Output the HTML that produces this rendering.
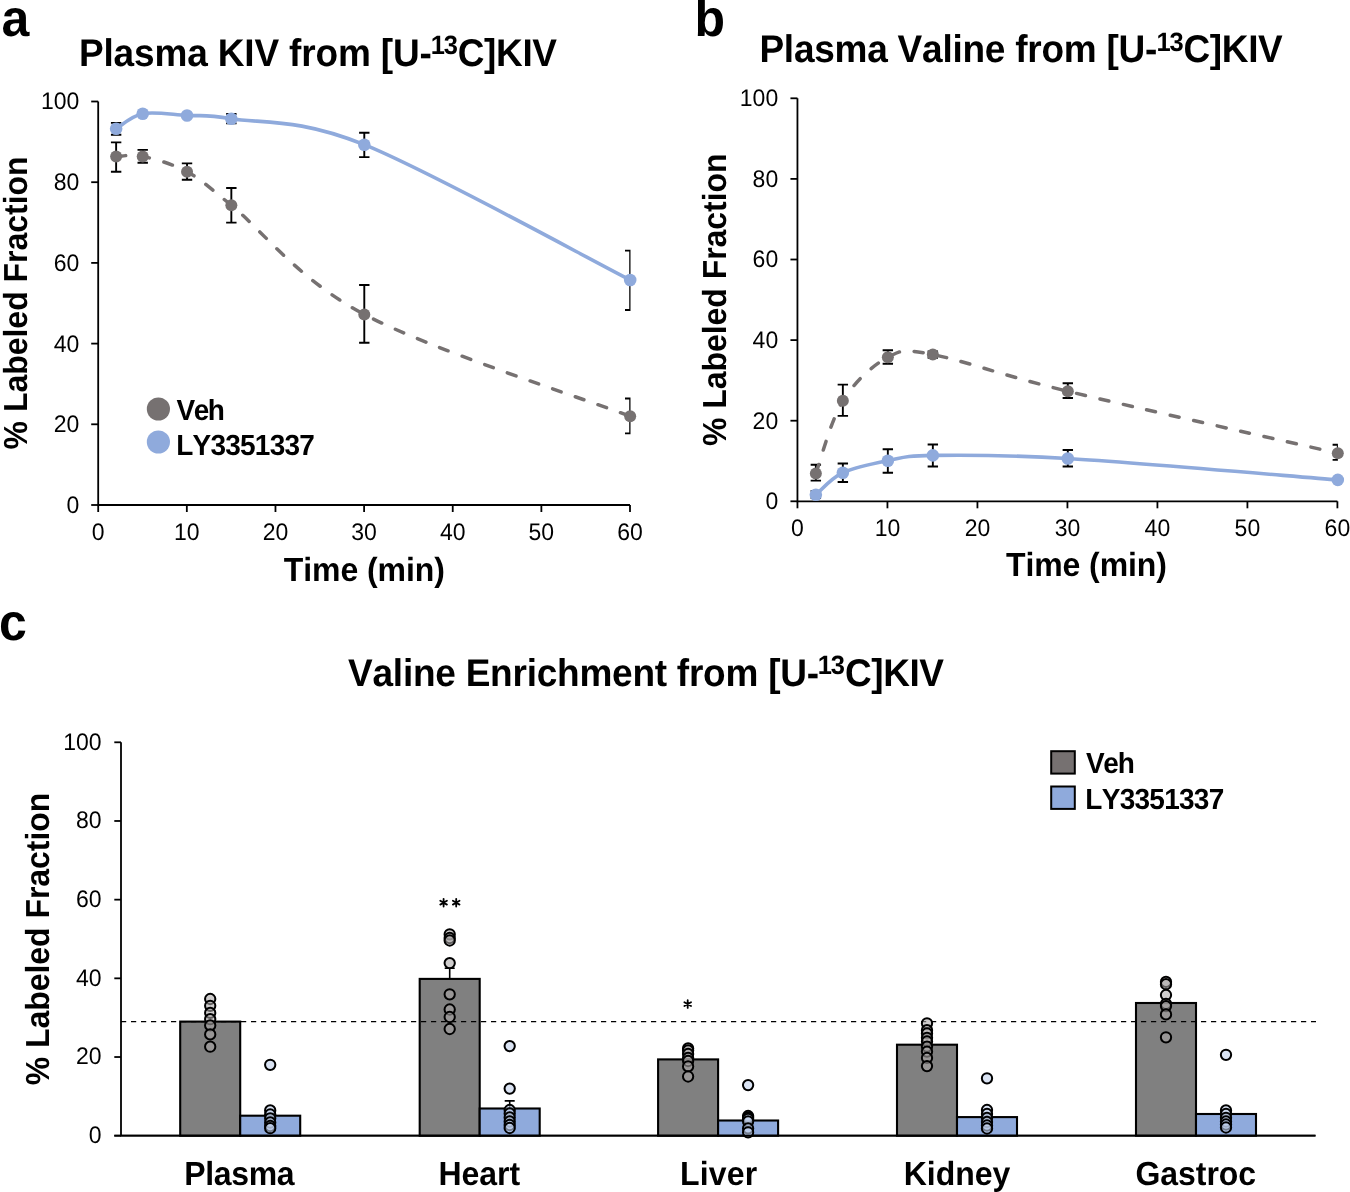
<!DOCTYPE html><html><head><meta charset="utf-8"><style>html,body{margin:0;padding:0;background:#fff;}svg{display:block;will-change:transform;}text{font-family:"Liberation Sans", sans-serif;fill:#000;font-kerning:none;text-rendering:geometricPrecision;}</style></head><body>
<svg width="1350" height="1192" viewBox="0 0 1350 1192">
<rect width="1350" height="1192" fill="#fff"/>
<g stroke="#000" stroke-width="1.80" fill="none" stroke-linecap="butt">
<path d="M98.20,101.50 V505.00 H630.00"/>
<path d="M91.20,505.00 H98.20"/>
<path d="M91.20,424.30 H98.20"/>
<path d="M91.20,343.60 H98.20"/>
<path d="M91.20,262.90 H98.20"/>
<path d="M91.20,182.20 H98.20"/>
<path d="M91.20,101.50 H98.20"/>
<path d="M98.20,505.00 V512.00"/>
<path d="M186.83,505.00 V512.00"/>
<path d="M275.47,505.00 V512.00"/>
<path d="M364.10,505.00 V512.00"/>
<path d="M452.73,505.00 V512.00"/>
<path d="M541.37,505.00 V512.00"/>
<path d="M630.00,505.00 V512.00"/>
</g>
<text transform="translate(79.30,512.90) scale(1,1.041)" font-size="23.00" font-weight="normal" text-anchor="end">0</text>
<text transform="translate(79.30,432.20) scale(1,1.041)" font-size="23.00" font-weight="normal" text-anchor="end">20</text>
<text transform="translate(79.30,351.50) scale(1,1.041)" font-size="23.00" font-weight="normal" text-anchor="end">40</text>
<text transform="translate(79.30,270.80) scale(1,1.041)" font-size="23.00" font-weight="normal" text-anchor="end">60</text>
<text transform="translate(79.30,190.10) scale(1,1.041)" font-size="23.00" font-weight="normal" text-anchor="end">80</text>
<text transform="translate(79.30,109.40) scale(1,1.041)" font-size="23.00" font-weight="normal" text-anchor="end">100</text>
<text transform="translate(98.20,539.60) scale(1,1.041)" font-size="23.00" font-weight="normal" text-anchor="middle">0</text>
<text transform="translate(186.83,539.60) scale(1,1.041)" font-size="23.00" font-weight="normal" text-anchor="middle">10</text>
<text transform="translate(275.47,539.60) scale(1,1.041)" font-size="23.00" font-weight="normal" text-anchor="middle">20</text>
<text transform="translate(364.10,539.60) scale(1,1.041)" font-size="23.00" font-weight="normal" text-anchor="middle">30</text>
<text transform="translate(452.73,539.60) scale(1,1.041)" font-size="23.00" font-weight="normal" text-anchor="middle">40</text>
<text transform="translate(541.37,539.60) scale(1,1.041)" font-size="23.00" font-weight="normal" text-anchor="middle">50</text>
<text transform="translate(630.00,539.60) scale(1,1.041)" font-size="23.00" font-weight="normal" text-anchor="middle">60</text>
<clipPath id="ca"><rect x="78.20" y="0" width="552.30" height="525.00"/></clipPath>
<g clip-path="url(#ca)">
<g stroke="#000" stroke-width="1.9" fill="none">
<path d="M116.13,142.40 V171.80 M110.93,142.40 H121.33 M110.93,171.80 H121.33"/>
<path d="M142.71,149.90 V162.80 M137.51,149.90 H147.91 M137.51,162.80 H147.91"/>
<path d="M187.03,163.40 V179.70 M181.83,163.40 H192.23 M181.83,179.70 H192.23"/>
<path d="M231.34,188.00 V222.60 M226.14,188.00 H236.54 M226.14,222.60 H236.54"/>
<path d="M364.29,285.00 V342.70 M359.09,285.00 H369.49 M359.09,342.70 H369.49"/>
<path d="M630.18,398.50 V433.40 M624.98,398.50 H635.38 M624.98,433.40 H635.38"/>
<path d="M116.13,122.90 V134.70 M110.93,122.90 H121.33 M110.93,134.70 H121.33"/>
<path d="M231.34,114.00 V123.40 M226.14,114.00 H236.54 M226.14,123.40 H236.54"/>
<path d="M364.29,132.70 V157.10 M359.09,132.70 H369.49 M359.09,157.10 H369.49"/>
<path d="M630.18,250.60 V310.00 M624.98,250.60 H635.38 M624.98,310.00 H635.38"/>
</g>
</g>
<path d="M116.13,156.60 C120.56,156.57 130.90,153.87 142.71,156.40 C154.53,158.93 172.26,163.67 187.03,171.80 C201.80,179.93 201.80,181.43 231.34,205.20 C260.89,228.97 297.82,279.22 364.29,314.40 C430.76,349.58 585.87,399.32 630.18,416.30" fill="none" stroke="#767171" stroke-width="3.5" stroke-linecap="round" stroke-dasharray="9.1 14.9" stroke-dashoffset="-0.60"/>
<path d="M116.13,128.80 C120.56,126.28 130.90,115.92 142.71,113.70 C154.53,111.48 172.26,114.67 187.03,115.50 C201.80,116.33 201.80,113.83 231.34,118.70 C260.89,123.57 297.82,117.82 364.29,144.70 C430.76,171.58 585.87,257.45 630.18,280.00" fill="none" stroke="#8FAADC" stroke-width="3.6"/>
<circle cx="116.13" cy="156.60" r="6.0" fill="#767171"/>
<circle cx="142.71" cy="156.40" r="6.0" fill="#767171"/>
<circle cx="187.03" cy="171.80" r="6.0" fill="#767171"/>
<circle cx="231.34" cy="205.20" r="6.0" fill="#767171"/>
<circle cx="364.29" cy="314.40" r="6.0" fill="#767171"/>
<circle cx="630.18" cy="416.30" r="6.0" fill="#767171"/>
<circle cx="116.13" cy="128.80" r="6.3" fill="#8FAADC"/>
<circle cx="142.71" cy="113.70" r="6.3" fill="#8FAADC"/>
<circle cx="187.03" cy="115.50" r="6.3" fill="#8FAADC"/>
<circle cx="231.34" cy="118.70" r="6.3" fill="#8FAADC"/>
<circle cx="364.29" cy="144.70" r="6.3" fill="#8FAADC"/>
<circle cx="630.18" cy="280.00" r="6.3" fill="#8FAADC"/>
<text transform="translate(1.50,36.00) scale(1,1.041)" font-size="50.00" font-weight="bold" text-anchor="start">a</text>
<text transform="translate(78.92,65.90) scale(1,1.041)" font-size="37.00" font-weight="bold" style="letter-spacing:-0.152px">Plasma KIV from [U-</text>
<text transform="translate(430.79,54.10) scale(1,1.041)" font-size="25.50" font-weight="bold" style="letter-spacing:-1.236px">13</text>
<text transform="translate(457.78,65.90) scale(1,1.041)" font-size="37.00" font-weight="bold" style="letter-spacing:-0.387px">C]KIV</text>
<text transform="translate(283.64,581.10) scale(1,1.041)" font-size="32.00" font-weight="bold" style="letter-spacing:-0.048px">Time (min)</text>
<text transform="rotate(-90) translate(-449.40,26.90) scale(1,1.041)" font-size="32.00" font-weight="bold" style="letter-spacing:-0.024px">% Labeled Fraction</text>
<circle cx="158.4" cy="409" r="11.6" fill="#767171"/>
<circle cx="158.4" cy="442" r="11.6" fill="#8FAADC"/>
<text transform="translate(176.51,419.70) scale(1,1.041)" font-size="28.00" font-weight="bold" style="letter-spacing:-1.512px">Veh</text>
<text transform="translate(176.13,454.70) scale(1,1.041)" font-size="28.00" font-weight="bold" style="letter-spacing:-0.760px">LY3351337</text>
<g stroke="#000" stroke-width="1.80" fill="none" stroke-linecap="butt">
<path d="M797.45,98.30 V501.30 H1337.40"/>
<path d="M790.45,501.30 H797.45"/>
<path d="M790.45,420.70 H797.45"/>
<path d="M790.45,340.10 H797.45"/>
<path d="M790.45,259.50 H797.45"/>
<path d="M790.45,178.90 H797.45"/>
<path d="M790.45,98.30 H797.45"/>
<path d="M797.45,501.30 V508.30"/>
<path d="M887.44,501.30 V508.30"/>
<path d="M977.43,501.30 V508.30"/>
<path d="M1067.43,501.30 V508.30"/>
<path d="M1157.42,501.30 V508.30"/>
<path d="M1247.41,501.30 V508.30"/>
<path d="M1337.40,501.30 V508.30"/>
</g>
<text transform="translate(778.20,509.20) scale(1,1.041)" font-size="23.00" font-weight="normal" text-anchor="end">0</text>
<text transform="translate(778.20,428.60) scale(1,1.041)" font-size="23.00" font-weight="normal" text-anchor="end">20</text>
<text transform="translate(778.20,348.00) scale(1,1.041)" font-size="23.00" font-weight="normal" text-anchor="end">40</text>
<text transform="translate(778.20,267.40) scale(1,1.041)" font-size="23.00" font-weight="normal" text-anchor="end">60</text>
<text transform="translate(778.20,186.80) scale(1,1.041)" font-size="23.00" font-weight="normal" text-anchor="end">80</text>
<text transform="translate(778.20,106.20) scale(1,1.041)" font-size="23.00" font-weight="normal" text-anchor="end">100</text>
<text transform="translate(797.45,536.20) scale(1,1.041)" font-size="23.00" font-weight="normal" text-anchor="middle">0</text>
<text transform="translate(887.44,536.20) scale(1,1.041)" font-size="23.00" font-weight="normal" text-anchor="middle">10</text>
<text transform="translate(977.43,536.20) scale(1,1.041)" font-size="23.00" font-weight="normal" text-anchor="middle">20</text>
<text transform="translate(1067.43,536.20) scale(1,1.041)" font-size="23.00" font-weight="normal" text-anchor="middle">30</text>
<text transform="translate(1157.42,536.20) scale(1,1.041)" font-size="23.00" font-weight="normal" text-anchor="middle">40</text>
<text transform="translate(1247.41,536.20) scale(1,1.041)" font-size="23.00" font-weight="normal" text-anchor="middle">50</text>
<text transform="translate(1337.40,536.20) scale(1,1.041)" font-size="23.00" font-weight="normal" text-anchor="middle">60</text>
<clipPath id="cb"><rect x="777.45" y="0" width="560.45" height="521.30"/></clipPath>
<g clip-path="url(#cb)">
<g stroke="#000" stroke-width="1.9" fill="none">
<path d="M815.85,464.70 V480.60 M810.65,464.70 H821.05 M810.65,480.60 H821.05"/>
<path d="M842.85,384.60 V415.90 M837.64,384.60 H848.05 M837.64,415.90 H848.05"/>
<path d="M887.84,350.20 V363.80 M882.64,350.20 H893.04 M882.64,363.80 H893.04"/>
<path d="M932.84,351.50 V357.70 M927.63,351.50 H938.04 M927.63,357.70 H938.04"/>
<path d="M1067.82,383.30 V398.00 M1062.62,383.30 H1073.02 M1062.62,398.00 H1073.02"/>
<path d="M1337.79,444.70 V459.90 M1332.59,444.70 H1342.99 M1332.59,459.90 H1342.99"/>
<path d="M815.85,491.00 V498.00 M810.65,491.00 H821.05 M810.65,498.00 H821.05"/>
<path d="M842.85,463.50 V482.00 M837.64,463.50 H848.05 M837.64,482.00 H848.05"/>
<path d="M887.84,449.20 V472.70 M882.64,449.20 H893.04 M882.64,472.70 H893.04"/>
<path d="M932.84,444.50 V466.50 M927.63,444.50 H938.04 M927.63,466.50 H938.04"/>
<path d="M1067.82,450.00 V466.50 M1062.62,450.00 H1073.02 M1062.62,466.50 H1073.02"/>
</g>
</g>
<path d="M815.85,473.50 C820.35,461.38 830.85,420.17 842.85,400.80 C854.84,381.43 872.84,365.00 887.84,357.30 C902.84,349.60 902.84,348.93 932.84,354.60 C962.83,360.27 1000.33,374.87 1067.82,391.30 C1135.31,407.73 1292.80,442.88 1337.79,453.20" fill="none" stroke="#767171" stroke-width="3.5" stroke-linecap="round" stroke-dasharray="9.1 14.9" stroke-dashoffset="-0.60"/>
<path d="M815.85,494.70 C820.35,491.03 830.85,478.37 842.85,472.70 C854.84,467.03 872.84,463.58 887.84,460.70 C902.84,457.82 902.84,455.77 932.84,455.40 C962.83,455.03 1000.33,454.42 1067.82,458.50 C1135.31,462.58 1292.80,476.33 1337.79,479.90" fill="none" stroke="#8FAADC" stroke-width="3.6"/>
<circle cx="815.85" cy="473.50" r="6.0" fill="#767171"/>
<circle cx="842.85" cy="400.80" r="6.0" fill="#767171"/>
<circle cx="887.84" cy="357.30" r="6.0" fill="#767171"/>
<circle cx="932.84" cy="354.60" r="6.0" fill="#767171"/>
<circle cx="1067.82" cy="391.30" r="6.0" fill="#767171"/>
<circle cx="1337.79" cy="453.20" r="6.0" fill="#767171"/>
<circle cx="815.85" cy="494.70" r="6.3" fill="#8FAADC"/>
<circle cx="842.85" cy="472.70" r="6.3" fill="#8FAADC"/>
<circle cx="887.84" cy="460.70" r="6.3" fill="#8FAADC"/>
<circle cx="932.84" cy="455.40" r="6.3" fill="#8FAADC"/>
<circle cx="1067.82" cy="458.50" r="6.3" fill="#8FAADC"/>
<circle cx="1337.79" cy="479.90" r="6.3" fill="#8FAADC"/>
<text transform="translate(694.50,35.80) scale(1,1.041)" font-size="50.00" font-weight="bold" text-anchor="start">b</text>
<text transform="translate(759.42,62.20) scale(1,1.041)" font-size="37.00" font-weight="bold" style="letter-spacing:-0.241px">Plasma Valine from [U-</text>
<text transform="translate(1156.49,50.90) scale(1,1.041)" font-size="25.50" font-weight="bold" style="letter-spacing:-1.136px">13</text>
<text transform="translate(1183.48,62.20) scale(1,1.041)" font-size="37.00" font-weight="bold" style="letter-spacing:-0.362px">C]KIV</text>
<text transform="translate(1005.94,575.70) scale(1,1.041)" font-size="32.00" font-weight="bold" style="letter-spacing:-0.081px">Time (min)</text>
<text transform="rotate(-90) translate(-446.10,725.90) scale(1,1.041)" font-size="32.00" font-weight="bold" style="letter-spacing:-0.039px">% Labeled Fraction</text>
<text transform="translate(-1.00,640.30) scale(1,1.041)" font-size="50.00" font-weight="bold" text-anchor="start">c</text>
<text transform="translate(348.05,686.00) scale(1,1.041)" font-size="37.00" font-weight="bold" style="letter-spacing:-0.237px">Valine Enrichment from [U-</text>
<text transform="translate(817.79,674.10) scale(1,1.041)" font-size="25.50" font-weight="bold" style="letter-spacing:-1.136px">13</text>
<text transform="translate(844.98,686.00) scale(1,1.041)" font-size="37.00" font-weight="bold" style="letter-spacing:-0.437px">C]KIV</text>
<text transform="rotate(-90) translate(-1085.30,49.30) scale(1,1.041)" font-size="32.00" font-weight="bold" style="letter-spacing:-0.048px">% Labeled Fraction</text>
<g stroke="#000" stroke-width="1.8" fill="none">
<path d="M121,742.30 V1135.70 H1315.5"/>
<path d="M114.3,1135.70 H121"/>
<path d="M114.3,1057.02 H121"/>
<path d="M114.3,978.34 H121"/>
<path d="M114.3,899.66 H121"/>
<path d="M114.3,820.98 H121"/>
<path d="M114.3,742.30 H121"/>
</g>
<text transform="translate(101.50,1143.10) scale(1,1.041)" font-size="23.00" font-weight="normal" text-anchor="end">0</text>
<text transform="translate(101.50,1064.42) scale(1,1.041)" font-size="23.00" font-weight="normal" text-anchor="end">20</text>
<text transform="translate(101.50,985.74) scale(1,1.041)" font-size="23.00" font-weight="normal" text-anchor="end">40</text>
<text transform="translate(101.50,907.06) scale(1,1.041)" font-size="23.00" font-weight="normal" text-anchor="end">60</text>
<text transform="translate(101.50,828.38) scale(1,1.041)" font-size="23.00" font-weight="normal" text-anchor="end">80</text>
<text transform="translate(101.50,749.70) scale(1,1.041)" font-size="23.00" font-weight="normal" text-anchor="end">100</text>
<rect x="180.20" y="1021.60" width="60.00" height="114.10" fill="#808080" stroke="#000" stroke-width="2.1"/>
<rect x="240.20" y="1115.70" width="60.00" height="20.00" fill="#8FAADC" stroke="#000" stroke-width="2.1"/>
<rect x="419.70" y="978.90" width="60.00" height="156.80" fill="#808080" stroke="#000" stroke-width="2.1"/>
<rect x="479.70" y="1108.50" width="60.00" height="27.20" fill="#8FAADC" stroke="#000" stroke-width="2.1"/>
<path d="M449.70,978.90 V968.30 M444.70,968.30 H454.70" stroke="#000" stroke-width="1.6"/>
<path d="M509.70,1108.50 V1100.90 M514.70,1100.90 H504.70" stroke="#000" stroke-width="1.6"/>
<rect x="658.10" y="1059.40" width="60.00" height="76.30" fill="#808080" stroke="#000" stroke-width="2.1"/>
<rect x="718.10" y="1120.50" width="60.00" height="15.20" fill="#8FAADC" stroke="#000" stroke-width="2.1"/>
<rect x="897.00" y="1044.70" width="60.00" height="91.00" fill="#808080" stroke="#000" stroke-width="2.1"/>
<rect x="957.00" y="1117.10" width="60.00" height="18.60" fill="#8FAADC" stroke="#000" stroke-width="2.1"/>
<rect x="1136.00" y="1003.00" width="60.00" height="132.70" fill="#808080" stroke="#000" stroke-width="2.1"/>
<rect x="1196.00" y="1114.00" width="60.00" height="21.70" fill="#8FAADC" stroke="#000" stroke-width="2.1"/>
<path d="M121,1021.6 H1316" stroke="#000" stroke-width="1.3" stroke-dasharray="5.2 4.8"/>
<circle cx="210.20" cy="999.00" r="5.15" fill="rgb(170,167,167)" fill-opacity="0.57" stroke="#000" stroke-width="2.0"/>
<circle cx="210.20" cy="1005.80" r="5.15" fill="rgb(170,167,167)" fill-opacity="0.57" stroke="#000" stroke-width="2.0"/>
<circle cx="210.20" cy="1012.90" r="5.15" fill="rgb(170,167,167)" fill-opacity="0.57" stroke="#000" stroke-width="2.0"/>
<circle cx="210.20" cy="1019.20" r="5.15" fill="rgb(170,167,167)" fill-opacity="0.57" stroke="#000" stroke-width="2.0"/>
<circle cx="210.20" cy="1025.40" r="5.15" fill="rgb(170,167,167)" fill-opacity="0.57" stroke="#000" stroke-width="2.0"/>
<circle cx="210.20" cy="1034.40" r="5.15" fill="rgb(170,167,167)" fill-opacity="0.57" stroke="#000" stroke-width="2.0"/>
<circle cx="210.20" cy="1046.70" r="5.15" fill="rgb(170,167,167)" fill-opacity="0.57" stroke="#000" stroke-width="2.0"/>
<circle cx="270.20" cy="1064.80" r="5.15" fill="rgb(193,208,235)" fill-opacity="0.6" stroke="#000" stroke-width="2.0"/>
<circle cx="270.20" cy="1110.40" r="5.15" fill="rgb(193,208,235)" fill-opacity="0.6" stroke="#000" stroke-width="2.0"/>
<circle cx="270.20" cy="1114.50" r="5.15" fill="rgb(193,208,235)" fill-opacity="0.6" stroke="#000" stroke-width="2.0"/>
<circle cx="270.20" cy="1118.30" r="5.15" fill="rgb(193,208,235)" fill-opacity="0.6" stroke="#000" stroke-width="2.0"/>
<circle cx="270.20" cy="1122.50" r="5.15" fill="rgb(193,208,235)" fill-opacity="0.6" stroke="#000" stroke-width="2.0"/>
<circle cx="270.20" cy="1126.00" r="5.15" fill="rgb(193,208,235)" fill-opacity="0.6" stroke="#000" stroke-width="2.0"/>
<circle cx="270.20" cy="1128.20" r="5.15" fill="rgb(193,208,235)" fill-opacity="0.6" stroke="#000" stroke-width="2.0"/>
<text transform="translate(184.36,1185.30) scale(1,1.041)" font-size="32.00" font-weight="bold" style="letter-spacing:-0.368px">Plasma</text>
<circle cx="449.70" cy="934.30" r="5.15" fill="rgb(170,167,167)" fill-opacity="0.57" stroke="#000" stroke-width="2.0"/>
<circle cx="449.70" cy="938.00" r="5.15" fill="rgb(170,167,167)" fill-opacity="0.57" stroke="#000" stroke-width="2.0"/>
<circle cx="449.70" cy="940.50" r="5.15" fill="rgb(170,167,167)" fill-opacity="0.57" stroke="#000" stroke-width="2.0"/>
<circle cx="449.70" cy="963.10" r="5.15" fill="rgb(170,167,167)" fill-opacity="0.57" stroke="#000" stroke-width="2.0"/>
<circle cx="449.70" cy="994.30" r="5.15" fill="rgb(170,167,167)" fill-opacity="0.57" stroke="#000" stroke-width="2.0"/>
<circle cx="449.70" cy="1009.50" r="5.15" fill="rgb(170,167,167)" fill-opacity="0.57" stroke="#000" stroke-width="2.0"/>
<circle cx="449.70" cy="1017.00" r="5.15" fill="rgb(170,167,167)" fill-opacity="0.57" stroke="#000" stroke-width="2.0"/>
<circle cx="449.70" cy="1029.00" r="5.15" fill="rgb(170,167,167)" fill-opacity="0.57" stroke="#000" stroke-width="2.0"/>
<circle cx="509.70" cy="1046.10" r="5.15" fill="rgb(193,208,235)" fill-opacity="0.6" stroke="#000" stroke-width="2.0"/>
<circle cx="509.70" cy="1088.60" r="5.15" fill="rgb(193,208,235)" fill-opacity="0.6" stroke="#000" stroke-width="2.0"/>
<circle cx="509.70" cy="1110.00" r="5.15" fill="rgb(193,208,235)" fill-opacity="0.6" stroke="#000" stroke-width="2.0"/>
<circle cx="509.70" cy="1113.50" r="5.15" fill="rgb(193,208,235)" fill-opacity="0.6" stroke="#000" stroke-width="2.0"/>
<circle cx="509.70" cy="1117.50" r="5.15" fill="rgb(193,208,235)" fill-opacity="0.6" stroke="#000" stroke-width="2.0"/>
<circle cx="509.70" cy="1121.50" r="5.15" fill="rgb(193,208,235)" fill-opacity="0.6" stroke="#000" stroke-width="2.0"/>
<circle cx="509.70" cy="1125.00" r="5.15" fill="rgb(193,208,235)" fill-opacity="0.6" stroke="#000" stroke-width="2.0"/>
<circle cx="509.70" cy="1128.00" r="5.15" fill="rgb(193,208,235)" fill-opacity="0.6" stroke="#000" stroke-width="2.0"/>
<text transform="translate(438.56,1185.30) scale(1,1.041)" font-size="32.00" font-weight="bold" style="letter-spacing:-0.070px">Heart</text>
<circle cx="688.10" cy="1048.40" r="5.15" fill="rgb(170,167,167)" fill-opacity="0.57" stroke="#000" stroke-width="2.0"/>
<circle cx="688.10" cy="1050.50" r="5.15" fill="rgb(170,167,167)" fill-opacity="0.57" stroke="#000" stroke-width="2.0"/>
<circle cx="688.10" cy="1054.00" r="5.15" fill="rgb(170,167,167)" fill-opacity="0.57" stroke="#000" stroke-width="2.0"/>
<circle cx="688.10" cy="1058.00" r="5.15" fill="rgb(170,167,167)" fill-opacity="0.57" stroke="#000" stroke-width="2.0"/>
<circle cx="688.10" cy="1061.00" r="5.15" fill="rgb(170,167,167)" fill-opacity="0.57" stroke="#000" stroke-width="2.0"/>
<circle cx="688.10" cy="1066.40" r="5.15" fill="rgb(170,167,167)" fill-opacity="0.57" stroke="#000" stroke-width="2.0"/>
<circle cx="688.10" cy="1076.50" r="5.15" fill="rgb(170,167,167)" fill-opacity="0.57" stroke="#000" stroke-width="2.0"/>
<circle cx="748.10" cy="1085.10" r="5.15" fill="rgb(193,208,235)" fill-opacity="0.6" stroke="#000" stroke-width="2.0"/>
<circle cx="748.10" cy="1116.00" r="5.15" fill="rgb(193,208,235)" fill-opacity="0.6" stroke="#000" stroke-width="2.0"/>
<circle cx="748.10" cy="1117.50" r="5.15" fill="rgb(193,208,235)" fill-opacity="0.6" stroke="#000" stroke-width="2.0"/>
<circle cx="748.10" cy="1119.00" r="5.15" fill="rgb(193,208,235)" fill-opacity="0.6" stroke="#000" stroke-width="2.0"/>
<circle cx="748.10" cy="1121.50" r="5.15" fill="rgb(193,208,235)" fill-opacity="0.6" stroke="#000" stroke-width="2.0"/>
<circle cx="748.10" cy="1128.40" r="5.15" fill="rgb(193,208,235)" fill-opacity="0.6" stroke="#000" stroke-width="2.0"/>
<circle cx="748.10" cy="1132.30" r="5.15" fill="rgb(193,208,235)" fill-opacity="0.6" stroke="#000" stroke-width="2.0"/>
<text transform="translate(680.06,1185.30) scale(1,1.041)" font-size="32.00" font-weight="bold" style="letter-spacing:0.160px">Liver</text>
<circle cx="927.00" cy="1023.30" r="5.15" fill="rgb(170,167,167)" fill-opacity="0.57" stroke="#000" stroke-width="2.0"/>
<circle cx="927.00" cy="1030.20" r="5.15" fill="rgb(170,167,167)" fill-opacity="0.57" stroke="#000" stroke-width="2.0"/>
<circle cx="927.00" cy="1033.40" r="5.15" fill="rgb(170,167,167)" fill-opacity="0.57" stroke="#000" stroke-width="2.0"/>
<circle cx="927.00" cy="1037.80" r="5.15" fill="rgb(170,167,167)" fill-opacity="0.57" stroke="#000" stroke-width="2.0"/>
<circle cx="927.00" cy="1041.50" r="5.15" fill="rgb(170,167,167)" fill-opacity="0.57" stroke="#000" stroke-width="2.0"/>
<circle cx="927.00" cy="1046.60" r="5.15" fill="rgb(170,167,167)" fill-opacity="0.57" stroke="#000" stroke-width="2.0"/>
<circle cx="927.00" cy="1051.60" r="5.15" fill="rgb(170,167,167)" fill-opacity="0.57" stroke="#000" stroke-width="2.0"/>
<circle cx="927.00" cy="1057.90" r="5.15" fill="rgb(170,167,167)" fill-opacity="0.57" stroke="#000" stroke-width="2.0"/>
<circle cx="927.00" cy="1066.10" r="5.15" fill="rgb(170,167,167)" fill-opacity="0.57" stroke="#000" stroke-width="2.0"/>
<circle cx="987.00" cy="1078.30" r="5.15" fill="rgb(193,208,235)" fill-opacity="0.6" stroke="#000" stroke-width="2.0"/>
<circle cx="987.00" cy="1110.00" r="5.15" fill="rgb(193,208,235)" fill-opacity="0.6" stroke="#000" stroke-width="2.0"/>
<circle cx="987.00" cy="1114.00" r="5.15" fill="rgb(193,208,235)" fill-opacity="0.6" stroke="#000" stroke-width="2.0"/>
<circle cx="987.00" cy="1118.00" r="5.15" fill="rgb(193,208,235)" fill-opacity="0.6" stroke="#000" stroke-width="2.0"/>
<circle cx="987.00" cy="1122.00" r="5.15" fill="rgb(193,208,235)" fill-opacity="0.6" stroke="#000" stroke-width="2.0"/>
<circle cx="987.00" cy="1125.50" r="5.15" fill="rgb(193,208,235)" fill-opacity="0.6" stroke="#000" stroke-width="2.0"/>
<circle cx="987.00" cy="1128.50" r="5.15" fill="rgb(193,208,235)" fill-opacity="0.6" stroke="#000" stroke-width="2.0"/>
<text transform="translate(903.76,1185.30) scale(1,1.041)" font-size="32.00" font-weight="bold" style="letter-spacing:-0.035px">Kidney</text>
<circle cx="1166.00" cy="981.90" r="5.15" fill="rgb(170,167,167)" fill-opacity="0.57" stroke="#000" stroke-width="2.0"/>
<circle cx="1166.00" cy="984.20" r="5.15" fill="rgb(170,167,167)" fill-opacity="0.57" stroke="#000" stroke-width="2.0"/>
<circle cx="1166.00" cy="995.00" r="5.15" fill="rgb(170,167,167)" fill-opacity="0.57" stroke="#000" stroke-width="2.0"/>
<circle cx="1166.00" cy="1003.80" r="5.15" fill="rgb(170,167,167)" fill-opacity="0.57" stroke="#000" stroke-width="2.0"/>
<circle cx="1166.00" cy="1006.10" r="5.15" fill="rgb(170,167,167)" fill-opacity="0.57" stroke="#000" stroke-width="2.0"/>
<circle cx="1166.00" cy="1014.40" r="5.15" fill="rgb(170,167,167)" fill-opacity="0.57" stroke="#000" stroke-width="2.0"/>
<circle cx="1166.00" cy="1037.30" r="5.15" fill="rgb(170,167,167)" fill-opacity="0.57" stroke="#000" stroke-width="2.0"/>
<circle cx="1226.00" cy="1054.80" r="5.15" fill="rgb(193,208,235)" fill-opacity="0.6" stroke="#000" stroke-width="2.0"/>
<circle cx="1226.00" cy="1110.40" r="5.15" fill="rgb(193,208,235)" fill-opacity="0.6" stroke="#000" stroke-width="2.0"/>
<circle cx="1226.00" cy="1114.00" r="5.15" fill="rgb(193,208,235)" fill-opacity="0.6" stroke="#000" stroke-width="2.0"/>
<circle cx="1226.00" cy="1117.80" r="5.15" fill="rgb(193,208,235)" fill-opacity="0.6" stroke="#000" stroke-width="2.0"/>
<circle cx="1226.00" cy="1121.50" r="5.15" fill="rgb(193,208,235)" fill-opacity="0.6" stroke="#000" stroke-width="2.0"/>
<circle cx="1226.00" cy="1124.50" r="5.15" fill="rgb(193,208,235)" fill-opacity="0.6" stroke="#000" stroke-width="2.0"/>
<circle cx="1226.00" cy="1127.50" r="5.15" fill="rgb(193,208,235)" fill-opacity="0.6" stroke="#000" stroke-width="2.0"/>
<text transform="translate(1135.49,1185.30) scale(1,1.041)" font-size="32.00" font-weight="bold" style="letter-spacing:-0.048px">Gastroc</text>
<path d="M114.3,1135.7 H1315.5" stroke="#000" stroke-width="1.8"/>
<path d="M443.60,898.85 L443.60,906.55 M440.27,900.78 L446.93,904.62 M446.93,900.78 L440.27,904.62 " stroke="#000" stroke-width="1.80" stroke-linecap="round" fill="none"/>
<path d="M456.20,898.85 L456.20,906.55 M452.87,900.78 L459.53,904.62 M459.53,900.78 L452.87,904.62 " stroke="#000" stroke-width="1.80" stroke-linecap="round" fill="none"/>
<path d="M687.70,1000.25 L687.70,1007.95 M684.37,1002.18 L691.03,1006.02 M691.03,1002.18 L684.37,1006.02 " stroke="#000" stroke-width="1.80" stroke-linecap="round" fill="none"/>
<rect x="1051.2" y="751.2" width="23.6" height="22.4" fill="#767171" stroke="#000" stroke-width="2"/>
<rect x="1051.2" y="786.5" width="23.6" height="22.4" fill="#8FAADC" stroke="#000" stroke-width="2"/>
<text transform="translate(1085.91,773.30) scale(1,1.041)" font-size="28.00" font-weight="bold" style="letter-spacing:-1.212px">Veh</text>
<text transform="translate(1085.33,808.60) scale(1,1.041)" font-size="28.00" font-weight="bold" style="letter-spacing:-0.735px">LY3351337</text>
</svg></body></html>
